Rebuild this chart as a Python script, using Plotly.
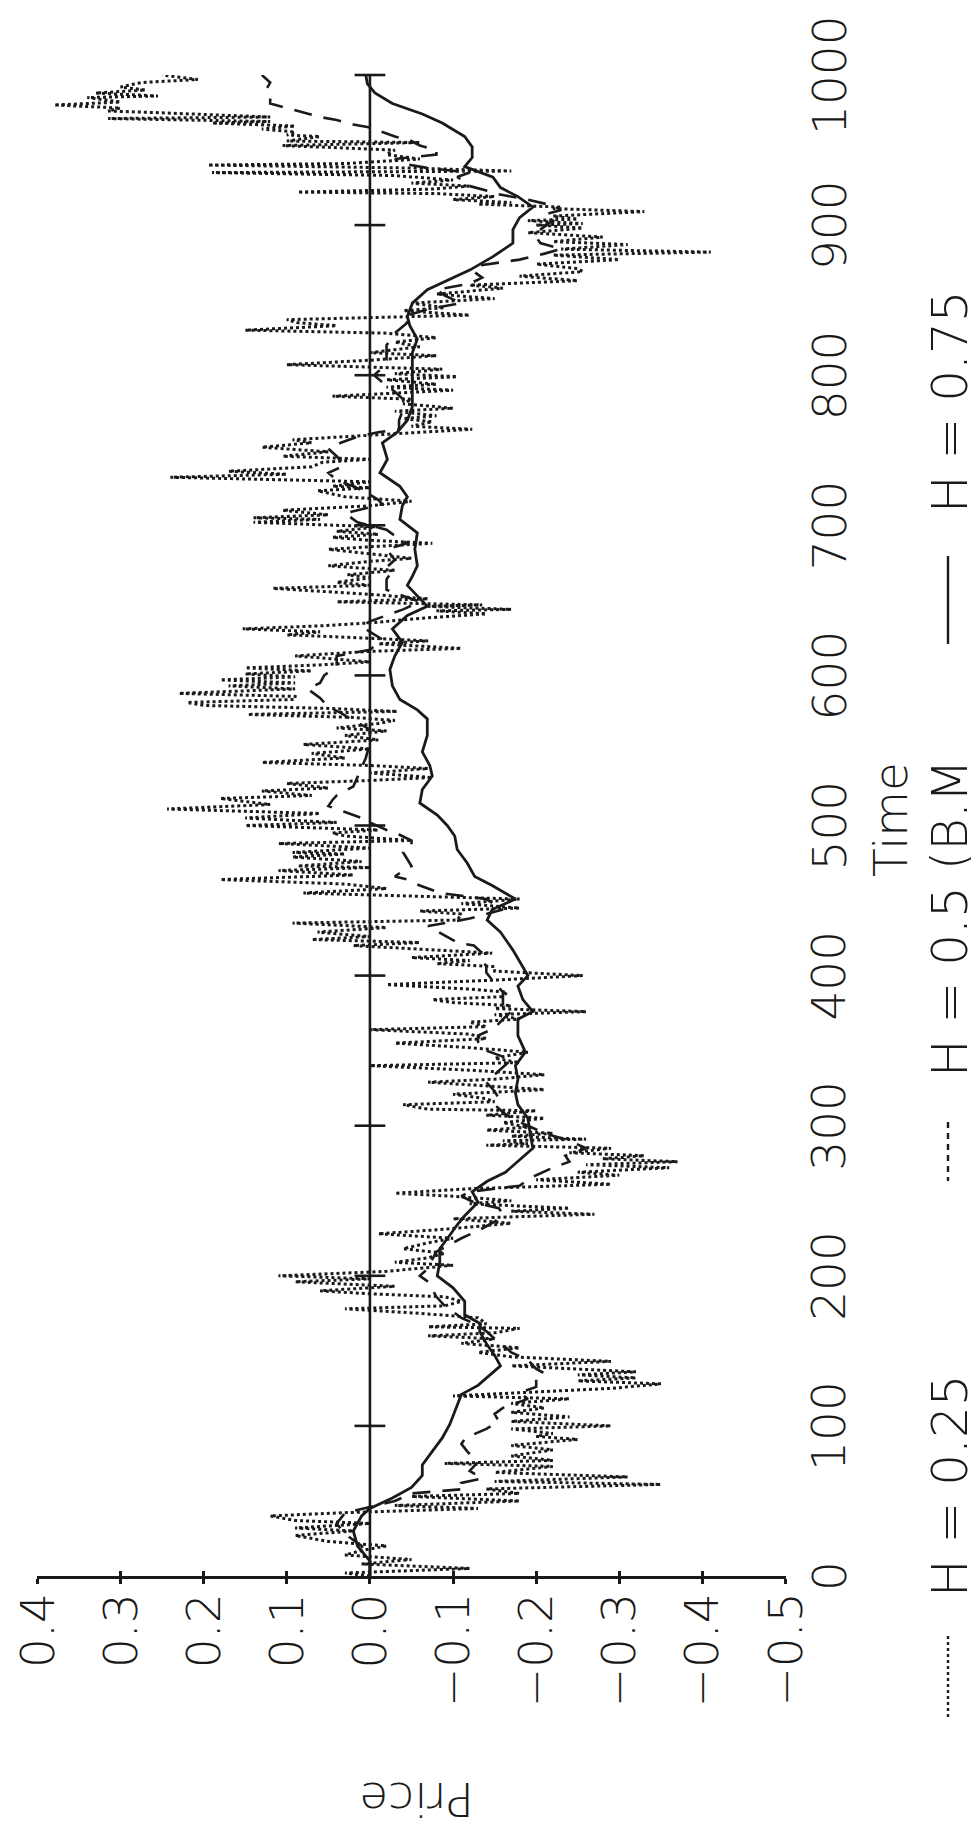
import plotly.graph_objects as go

# ---------------- data ----------------
time_ticks = [0, 100, 200, 300, 400, 500, 600, 700, 800, 900, 1000]
time_labels = [str(v) for v in time_ticks]
price_ticks = [0.4, 0.3, 0.2, 0.1, 0.0, -0.1, -0.2, -0.3, -0.4, -0.5]
price_labels = ["0.4", "0.3", "0.2", "0.1", "0.0", "\u22120.1", "\u22120.2", "\u22120.3", "\u22120.4", "\u22120.5"]

t75 = [0, 10, 20, 30, 40, 45, 52, 59, 67, 74, 83, 92, 101, 107, 114, 121, 127, 134, 140, 147, 154, 163, 168,
       174, 183, 192, 200, 209, 218, 227, 234, 240, 249, 256, 263, 269, 276, 285, 294, 305, 314, 322, 331, 340,
       349, 360, 371, 376, 384, 393, 400, 409, 417, 429, 437, 444, 451, 460, 466, 475, 484, 493, 500, 507, 515,
       524, 533, 540, 549, 560, 571, 577, 584, 593, 604, 613, 622, 631, 640, 646, 653, 660, 666, 673, 684, 695,
       704, 713, 719, 726, 735, 744, 755, 762, 770, 779, 788, 797, 806, 815, 824, 833, 839, 848, 857, 863, 870,
       879, 888, 897, 905, 912, 919, 925, 932, 939, 945, 952, 959, 968, 974, 981, 988, 994, 1000]
p75 = [0.0, 0.0, 0.015, 0.02, 0.01, 0.0, -0.027, -0.05, -0.063, -0.063, -0.075, -0.087, -0.096, -0.1, -0.105,
       -0.11, -0.13, -0.145, -0.157, -0.15, -0.141, -0.132, -0.133, -0.114, -0.114, -0.1, -0.081, -0.084, -0.084,
       -0.096, -0.105, -0.114, -0.13, -0.123, -0.141, -0.163, -0.178, -0.196, -0.193, -0.19, -0.178, -0.175,
       -0.178, -0.175, -0.187, -0.178, -0.178, -0.196, -0.184, -0.178, -0.19, -0.18, -0.172, -0.157, -0.141,
       -0.147, -0.175, -0.147, -0.126, -0.117, -0.105, -0.102, -0.093, -0.081, -0.06, -0.063, -0.075, -0.072,
       -0.063, -0.069, -0.069, -0.057, -0.036, -0.027, -0.024, -0.03, -0.039, -0.027, -0.045, -0.069, -0.057,
       -0.045, -0.051, -0.057, -0.054, -0.057, -0.036, -0.039, -0.045, -0.036, -0.012, -0.021, -0.015, -0.033,
       -0.045, -0.051, -0.051, -0.051, -0.051, -0.051, -0.057, -0.048, -0.045, -0.051, -0.069, -0.093, -0.12,
       -0.148, -0.172, -0.172, -0.18, -0.196, -0.178, -0.157, -0.148, -0.114, -0.123, -0.123, -0.114, -0.087,
       -0.063, -0.027, -0.006, 0.003, 0.005]

t50 = [0, 10, 20, 28, 35, 42, 46, 50, 55, 58, 62, 65, 70, 76, 83, 88, 92, 98, 103, 108, 112, 118, 122, 126, 131,
       135, 138, 144, 149, 154, 158, 163, 167, 172, 176, 180, 186, 191, 196, 200, 205, 211, 216, 220, 225, 230,
       236, 241, 245, 249, 253, 256, 260, 264, 267, 272, 276, 280, 285, 290, 295, 300, 305, 309, 314, 318, 323,
       329, 334, 339, 344, 348, 351, 356, 360, 365, 371, 376, 380, 385, 389, 395, 402, 406, 411, 415, 420, 422,
       428, 433, 438, 444, 451, 455, 460, 464, 466, 470, 473, 478, 482, 486, 490, 494, 497, 502, 505, 509, 513,
       517, 520, 526, 532, 538, 545, 555, 564, 570, 575, 579, 585, 591, 595, 600, 606, 613, 617, 624, 629, 633,
       636, 640, 644, 649, 653, 657, 664, 668, 672, 677, 684, 688, 693, 697, 702, 708, 714, 717, 722, 726, 730,
       735, 740, 746, 751, 755, 759, 762, 764, 770, 777, 784, 789, 793, 800, 805, 810, 815, 820, 828, 835, 839,
       844, 848, 853, 857, 861, 865, 869, 873, 877, 881, 884, 888, 892, 895, 899, 903, 907, 910, 913, 917, 921,
       923, 926, 929, 932, 935, 938, 941, 944, 947, 950, 953, 956, 959, 962, 965, 967, 970, 972, 975, 978, 981,
       985, 990, 995, 1000]
p50 = [0.0, 0.0, 0.01, 0.03, 0.04, 0.03, 0.0, -0.03, -0.05, -0.115, -0.11, -0.135, -0.12, -0.13, -0.117, -0.11,
       -0.115, -0.14, -0.155, -0.15, -0.16, -0.19, -0.18, -0.2, -0.2, -0.21, -0.2, -0.19, -0.17, -0.16, -0.15,
       -0.14, -0.13, -0.11, -0.1, -0.09, -0.08, -0.075, -0.07, -0.06, -0.07, -0.075, -0.08, -0.093, -0.11, -0.13,
       -0.15, -0.16, -0.155, -0.125, -0.11, -0.12, -0.18, -0.19, -0.2, -0.22, -0.24, -0.235, -0.26, -0.24, -0.21,
       -0.19, -0.17, -0.16, -0.15, -0.155, -0.15, -0.14, -0.15, -0.16, -0.17, -0.15, -0.135, -0.13, -0.13, -0.15,
       -0.16, -0.17, -0.16, -0.16, -0.16, -0.15, -0.14, -0.14, -0.135, -0.135, -0.125, -0.105, -0.085, -0.07,
       -0.12, -0.16, -0.14, -0.085, -0.06, -0.045, -0.03, -0.04, -0.05, -0.045, -0.04, -0.05, -0.05, -0.035,
       -0.02, 0.0, 0.01, 0.03, 0.05, 0.045, 0.04, 0.02, 0.015, 0.01, 0.005, 0.0, 0.0, 0.02, 0.035, 0.05, 0.06,
       0.075, 0.06, 0.055, 0.04, 0.04, 0.0, -0.015, 0.0, 0.01, 0.0, -0.02, -0.04, -0.06, -0.04, -0.02, -0.02,
       -0.025, -0.02, -0.03, -0.02, -0.045, -0.03, -0.02, 0.015, 0.03, -0.015, -0.01, 0.005, 0.02, 0.04, 0.05,
       0.03, 0.04, 0.05, 0.035, 0.015, -0.01, -0.035, -0.035, -0.04, -0.04, -0.03, -0.02, -0.005, -0.015, -0.02,
       -0.02, -0.02, -0.03, -0.045, -0.04, -0.07, -0.11, -0.09, -0.08, -0.12, -0.135, -0.125, -0.13, -0.18,
       -0.21, -0.23, -0.205, -0.2, -0.2, -0.21, -0.22, -0.21, -0.23, -0.22, -0.19, -0.15, -0.14, -0.12, -0.115,
       -0.105, -0.12, -0.07, -0.04, -0.03, -0.08, -0.08, -0.06, -0.05, -0.03, -0.015, 0.0, 0.02, 0.04, 0.06,
       0.08, 0.1, 0.12, 0.12, 0.125, 0.12, 0.13]

t25 = [0, 2, 5, 8, 11, 14, 17, 20, 23, 27, 30, 32, 35, 37, 40, 42, 45, 47, 50, 53, 55, 58, 61, 63, 66, 69, 73,
       75, 77, 80, 84, 87, 91, 93, 95, 98, 100, 103, 106, 109, 112, 115, 118, 120, 125, 128, 130, 132, 134, 136,
       140, 143, 146, 149, 152, 155, 158, 160, 162, 165, 166, 168, 172, 175, 178, 180, 183, 186, 188, 190, 193,
       196, 198, 200, 203, 207, 209, 212, 215, 218, 222, 225, 228, 231, 235, 238, 241, 243, 245, 248, 250, 253,
       255, 258, 261, 264, 267, 269, 272, 274, 276, 278, 280, 282, 285, 287, 288, 290, 291, 293, 295, 297, 299,
       302, 305, 307, 310, 311, 314, 316, 318, 321, 324, 326, 329, 331, 334, 337, 340, 342, 345, 349, 352, 355,
       358, 361, 364, 366, 369, 371, 374, 376, 378, 380, 382, 384, 386, 389, 391, 394, 397, 400, 403, 406, 408,
       410, 412, 415, 417, 420, 422, 424, 426, 429, 432, 435, 437, 441, 443, 445, 448, 451, 453, 455, 458, 461,
       464, 467, 470, 472, 473, 476, 479, 481, 482, 485, 488, 490, 493, 495, 497, 500, 502, 505, 508, 511, 514,
       518, 520, 523, 525, 528, 530, 532, 535, 538, 540, 542, 545, 548, 551, 554, 557, 560, 563, 565, 568, 570,
       572, 574, 576, 578, 580, 582, 584, 586, 588, 591, 593, 595, 597, 599, 601, 603, 605, 607, 609, 611, 613,
       616, 618, 621, 623, 625, 627, 629, 631, 633, 635, 638, 641, 643, 644, 646, 647, 649, 651, 654, 658, 660,
       662, 665, 667, 670, 673, 676, 678, 681, 684, 686, 688, 690, 692, 694, 696, 699, 702, 704, 705, 707, 710,
       713, 716, 719, 723, 725, 726, 729, 732, 734, 736, 739, 742, 744, 746, 749, 752, 755, 757, 760, 764, 766,
       769, 771, 773, 776, 778, 781, 784, 786, 788, 790, 792, 794, 797, 799, 801, 804, 807, 810, 813, 815, 817,
       819, 822, 825, 828, 830, 833, 835, 837, 839, 840, 843, 845, 848, 851, 854, 858, 860, 863, 866, 869, 871,
       874, 877, 880, 882, 884, 887, 889, 892, 895, 898, 900, 901, 903, 904, 906, 909, 911, 912, 914, 915, 917,
       919, 921, 922, 924, 926, 928, 930, 933, 935, 936, 938, 940, 941, 944, 947, 950, 953, 955, 956, 959, 960,
       962, 964, 966, 968, 969, 971, 972, 975, 976, 978, 980, 982, 985, 986, 988, 990, 992, 995, 997, 1000]
p25 = [0.0, 0.03, -0.12, 0.01, -0.05, 0.03, 0.01, -0.02, 0.05, 0.09, 0.02, 0.09, 0.0, 0.09, 0.12, 0.04, -0.13,
       -0.03, -0.18, -0.05, -0.18, -0.14, -0.35, -0.15, -0.31, -0.15, -0.22, -0.09, -0.22, -0.17, -0.22, -0.17,
       -0.25, -0.2, -0.22, -0.17, -0.29, -0.17, -0.24, -0.17, -0.21, -0.17, -0.24, -0.1, -0.29, -0.35, -0.25,
       -0.32, -0.25, -0.32, -0.17, -0.29, -0.17, -0.13, -0.18, -0.11, -0.15, -0.07, -0.15, -0.18, -0.07, -0.14,
       -0.13, -0.06, 0.03, -0.09, -0.11, -0.09, 0.0, 0.06, -0.03, 0.09, 0.0, 0.11, -0.02, -0.1, -0.03, -0.07,
       -0.09, -0.04, -0.07, -0.1, -0.01, -0.09, -0.17, -0.1, -0.27, -0.17, -0.24, -0.12, -0.17, -0.1, -0.03,
       -0.12, -0.29, -0.2, -0.3, -0.25, -0.36, -0.26, -0.37, -0.28, -0.33, -0.24, -0.29, -0.14, -0.19, -0.16,
       -0.26, -0.17, -0.22, -0.14, -0.19, -0.16, -0.21, -0.14, -0.2, -0.07, -0.04, -0.15, -0.14, -0.1, -0.21,
       -0.15, -0.07, -0.15, -0.21, -0.12, 0.0, -0.18, -0.15, -0.19, -0.12, -0.03, -0.14, -0.12, 0.0, -0.14,
       -0.12, -0.18, -0.15, -0.26, -0.15, -0.17, -0.1, -0.075, -0.16, -0.165, -0.12, -0.02, -0.15, -0.256,
       -0.15, -0.15, -0.08, -0.12, -0.05, -0.147, -0.08, 0.02, -0.06, 0.07, 0.0, 0.063, -0.02, 0.093, -0.105,
       -0.11, -0.06, -0.18, -0.11, -0.18, -0.05, 0.08, -0.02, 0.03, 0.18, 0.02, 0.11, 0.0, 0.087, 0.01, 0.093,
       0.03, 0.093, 0.0, 0.11, -0.05, 0.03, 0.045, -0.01, 0.15, 0.04, 0.15, 0.06, 0.244, 0.12, 0.18, 0.07, 0.13,
       0.05, 0.1, 0.0, -0.075, 0.0, -0.07, 0.0, 0.13, 0.03, 0.07, 0.0, 0.08, -0.01, 0.03, -0.02, 0.04, -0.01,
       -0.03, 0.02, 0.147, -0.033, 0.05, 0.2, 0.22, 0.09, 0.09, 0.23, 0.09, 0.17, 0.09, 0.18, 0.09, 0.15, 0.07,
       0.15, 0.06, 0.0, 0.04, 0.09, 0.0, -0.11, -0.01, -0.07, 0.01, 0.1, 0.06, 0.153, 0.06, 0.0, -0.06, -0.14,
       -0.08, -0.17, -0.07, -0.135, 0.04, -0.07, 0.0, 0.117, 0.0, 0.04, 0.0, 0.027, -0.03, 0.05, 0.0, -0.05,
       0.0, 0.05, -0.01, -0.075, 0.0, 0.045, -0.01, 0.04, -0.01, 0.14, 0.06, 0.14, 0.05, 0.105, 0.0, -0.05,
       0.03, 0.063, 0.0, 0.045, 0.0, 0.24, 0.1, 0.17, 0.07, 0.057, 0.0, 0.105, 0.05, 0.13, 0.07, 0.093, 0.0,
       -0.123, -0.05, -0.075, -0.04, -0.08, -0.03, -0.1, -0.04, -0.05, 0.045, -0.02, -0.1, -0.02, -0.08, -0.02,
       -0.105, -0.03, -0.087, 0.1, 0.0, -0.08, 0.0, -0.03, -0.06, -0.03, -0.08, -0.02, 0.15, 0.04, 0.087, 0.1,
       -0.04, -0.12, -0.04, -0.09, -0.05, -0.15, -0.08, -0.16, -0.12, -0.25, -0.18, -0.256, -0.25, -0.2, -0.3,
       -0.22, -0.41, -0.23, -0.31, -0.22, -0.28, -0.19, -0.256, -0.2, -0.256, -0.19, -0.25, -0.22, -0.33,
       -0.22, -0.23, -0.13, -0.17, -0.1, -0.15, -0.08, 0.087, -0.075, -0.12, -0.05, -0.1, -0.03, 0.19, -0.17,
       -0.05, 0.195, 0.03, -0.06, -0.02, -0.03, 0.105, -0.06, 0.1, 0.06, 0.1, 0.09, 0.13, 0.09, 0.19, 0.12,
       0.315, 0.12, 0.26, 0.315, 0.3, 0.38, 0.3, 0.34, 0.255, 0.33, 0.27, 0.3, 0.275, 0.207, 0.25]

legend_names = ["H = 0.25", "H = 0.5 (B.M", "H = 0.75"]

# ---------------- layout geometry (pixels) ----------------
W, H = 979, 1828
ML, MR, MT, MB = 29, 201, 67, 260
PW, PH = W - ML - MR, H - MT - MB


def px(x):
    return (x - ML) / PW


def py(y):
    return (H - MB - y) / PH


FONT = "DejaVu Sans, Liberation Sans, sans-serif"
INK = "#1a1a1a"
LW = 2.6
TXT = dict(family=FONT, size=47, color=INK, weight=300)
LEGTXT = dict(family=FONT, size=50, color=INK, weight=300)

fig = go.Figure()

# zero line (time axis drawn at price 0) with tick marks
zero_x = [0.0 for _ in time_ticks]
fig.add_trace(go.Scatter(x=zero_x, y=time_ticks, mode="lines", line=dict(color=INK, width=LW),
                         showlegend=False, hoverinfo="skip", cliponaxis=False))
fig.add_trace(go.Scatter(x=zero_x[1:], y=time_ticks[1:], mode="markers",
                         marker=dict(symbol="line-ew", size=22, line=dict(color=INK, width=LW)),
                         showlegend=False, hoverinfo="skip", cliponaxis=False))

# series
fig.add_trace(go.Scatter(x=p25, y=t25, mode="lines", name=legend_names[0],
                         line=dict(color=INK, width=3.0, dash="dot"), cliponaxis=False))
fig.add_trace(go.Scatter(x=p50, y=t50, mode="lines", name=legend_names[1],
                         line=dict(color=INK, width=2.6, dash="18px,12px"), cliponaxis=False))
fig.add_trace(go.Scatter(x=p75, y=t75, mode="lines", name=legend_names[2],
                         line=dict(color=INK, width=2.8), cliponaxis=False))

XR = [0.4005, -0.5005]
fig.update_layout(
    width=W, height=H, showlegend=False,
    margin=dict(l=ML, r=MR, t=MT, b=MB, autoexpand=False),
    paper_bgcolor="white", plot_bgcolor="white",
    font=TXT,
    xaxis=dict(range=XR, tickvals=price_ticks, showticklabels=False,
               showgrid=False, zeroline=False, showline=True, linecolor=INK, linewidth=LW,
               ticks="outside", ticklen=5, tickwidth=LW, tickcolor=INK),
    xaxis2=dict(range=XR, overlaying="x", anchor="y", side="bottom", showgrid=False,
                zeroline=False, showline=False, showticklabels=False, tickvals=price_ticks,
                ticks="inside", ticklen=5, tickwidth=LW, tickcolor=INK),
    yaxis=dict(range=[0, 1000], tickvals=time_ticks, showticklabels=False,
               showgrid=False, zeroline=False, showline=False, ticks=""),
)
# invisible trace to activate xaxis2
fig.add_trace(go.Scatter(x=[0.0], y=[0], xaxis="x2", mode="markers", marker=dict(opacity=0),
                         showlegend=False, hoverinfo="skip"))

ann = []
# price tick labels (rotated, ending just below the axis)
for v, lab in zip(price_ticks, price_labels):
    ann.append(dict(text=lab, x=v, xref="x", y=py(1583), yref="paper",
                    xanchor="center", yanchor="top",
                    showarrow=False, textangle=-90, font=TXT))
# time tick labels (rotated, right of the plot)
for v, lab in zip(time_ticks, time_labels):
    ann.append(dict(text=lab, x=px(821), xref="paper", y=v, yref="y",
                    xanchor="center", yanchor="middle",
                    showarrow=False, textangle=-90, font=TXT))
ann.append(dict(text="Price", x=px(408), y=py(1792), xref="paper", yref="paper", showarrow=False,
                xanchor="center", yanchor="middle", textangle=180, font=TXT))
ann.append(dict(text="Time", x=px(882), y=py(812), xref="paper", yref="paper", showarrow=False,
                xanchor="center", yanchor="middle", textangle=-90, font=TXT))
leg_centers = [1478, 910, 394]
for name, yc in zip(legend_names, leg_centers):
    ann.append(dict(text=name, x=px(942), y=py(yc), xref="paper", yref="paper", showarrow=False,
                    xanchor="center", yanchor="middle", textangle=-90, font=LEGTXT))
fig.update_layout(annotations=ann)

shapes = []
samples = [((1628, 1709), "dot"), ((1114, 1173), "6px,5px"), ((548, 636), "solid")]
for (y0, y1), dash in samples:
    shapes.append(dict(type="line", xref="paper", yref="paper", x0=px(940), x1=px(940),
                       y0=py(y0), y1=py(y1), line=dict(color=INK, width=2.4, dash=dash)))
fig.update_layout(shapes=shapes)

fig.write_html("out.html")
